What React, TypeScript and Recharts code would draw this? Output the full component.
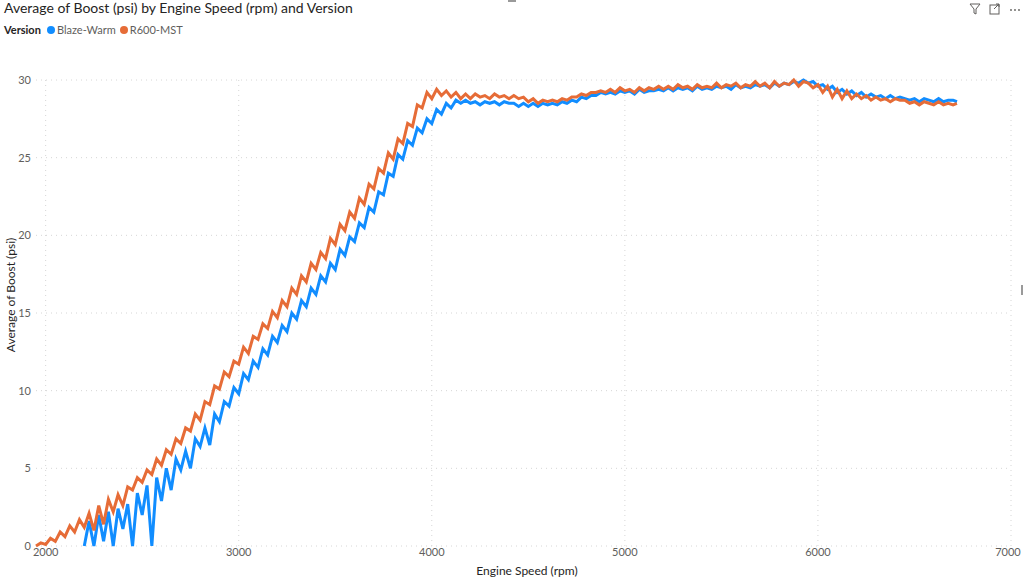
import React from "react";
import { LineChart, Line, XAxis, YAxis, CartesianGrid } from "recharts";

const rpm = [
  1950, 1975, 2000, 2025, 2050, 2075, 2100, 2125, 2150, 2175,
  2200, 2225, 2250, 2275, 2300, 2325, 2350, 2375, 2400, 2425,
  2450, 2475, 2500, 2525, 2550, 2575, 2600, 2625, 2650, 2675,
  2700, 2725, 2750, 2775, 2800, 2825, 2850, 2875, 2900, 2925,
  2950, 2975, 3000, 3025, 3050, 3075, 3100, 3125, 3150, 3175,
  3200, 3225, 3250, 3275, 3300, 3325, 3350, 3375, 3400, 3425,
  3450, 3475, 3500, 3525, 3550, 3575, 3600, 3625, 3650, 3675,
  3700, 3725, 3750, 3775, 3800, 3825, 3850, 3875, 3900, 3925,
  3950, 3975, 4000, 4025, 4050, 4075, 4100, 4125, 4150, 4175,
  4200, 4225, 4250, 4275, 4300, 4325, 4350, 4375, 4400, 4425,
  4450, 4475, 4500, 4525, 4550, 4575, 4600, 4625, 4650, 4675,
  4700, 4725, 4750, 4775, 4800, 4825, 4850, 4875, 4900, 4925,
  4950, 4975, 5000, 5025, 5050, 5075, 5100, 5125, 5150, 5175,
  5200, 5225, 5250, 5275, 5300, 5325, 5350, 5375, 5400, 5425,
  5450, 5475, 5500, 5525, 5550, 5575, 5600, 5625, 5650, 5675,
  5700, 5725, 5750, 5775, 5800, 5825, 5850, 5875, 5900, 5925,
  5950, 5975, 6000, 6025, 6050, 6075, 6100, 6125, 6150, 6175,
  6200, 6225, 6250, 6275, 6300, 6325, 6350, 6375, 6400, 6425,
  6450, 6475, 6500, 6525, 6550, 6575, 6600, 6625, 6650, 6675,
  6700, 6720,
];

// Blaze-Warm
const blazeWarm = [
  null, null, null, null, null, null, null, null, null, null,
  0.0, 1.6, 0.0, 2.0, 0.3, 2.2, 0.0, 2.4, 1.1, 2.7,
  0.0, 3.4, 2.0, 3.9, 0.0, 4.4, 2.9, 5.0, 3.6, 5.6,
  4.9, 6.1, 5.0, 6.9, 6.4, 7.6, 6.5, 8.5, 8.0, 9.3,
  9.0, 10.2, 9.8, 11.1, 10.7, 11.9, 11.5, 12.7, 12.3, 13.5,
  13.1, 14.2, 13.8, 15.0, 14.6, 15.8, 15.4, 16.6, 16.2, 17.4,
  17.0, 18.2, 17.8, 19.1, 18.7, 19.9, 19.6, 20.8, 20.5, 21.8,
  21.5, 22.8, 22.6, 24.0, 23.8, 25.2, 24.9, 26.1, 25.8, 26.9,
  26.6, 27.5, 27.2, 28.1, 27.8, 28.5, 28.2, 28.7, 28.5, 28.7,
  28.5, 28.6, 28.4, 28.6, 28.5, 28.6, 28.4, 28.6, 28.5, 28.5,
  28.3, 28.5, 28.3, 28.5, 28.3, 28.5, 28.4, 28.5, 28.4, 28.6,
  28.5, 28.7, 28.6, 28.9, 28.8, 29.0, 29.0, 29.2, 29.1, 29.2,
  29.1, 29.3, 29.2, 29.3, 29.1, 29.4, 29.2, 29.3, 29.3, 29.4,
  29.3, 29.5, 29.3, 29.5, 29.4, 29.5, 29.3, 29.6, 29.4, 29.5,
  29.4, 29.6, 29.5, 29.6, 29.4, 29.7, 29.5, 29.6, 29.5, 29.7,
  29.6, 29.7, 29.5, 29.8, 29.6, 29.8, 29.7, 29.9, 29.8, 30.0,
  29.8, 29.9, 29.6, 29.7, 29.4, 29.6, 29.2, 29.4, 29.1, 29.3,
  29.0, 29.2, 28.9, 29.1, 28.9, 29.0, 28.8, 29.0, 28.8, 28.9,
  28.8, 28.7, 28.8, 28.6, 28.8, 28.7, 28.6, 28.8, 28.6, 28.7,
  28.7, 28.6,
];

// R600-MST
const r600Mst = [
  0.0, 0.2, 0.1, 0.5, 0.3, 0.9, 0.6, 1.3, 0.9, 1.7,
  1.2, 2.1, 1.0, 2.6, 1.4, 3.0, 2.2, 3.3, 2.6, 3.8,
  3.6, 4.4, 4.1, 4.9, 4.6, 5.6, 5.2, 6.2, 5.9, 6.9,
  6.6, 7.6, 7.4, 8.5, 8.1, 9.3, 9.1, 10.3, 10.1, 11.2,
  10.9, 11.9, 11.7, 12.8, 12.4, 13.5, 13.3, 14.3, 14.0, 15.1,
  14.7, 15.8, 15.4, 16.6, 16.2, 17.4, 17.0, 18.2, 17.8, 18.9,
  18.5, 19.8, 19.4, 20.7, 20.3, 21.5, 21.1, 22.4, 22.0, 23.3,
  23.0, 24.3, 24.0, 25.3, 24.9, 26.2, 25.9, 27.2, 27.0, 28.4,
  28.2, 29.2, 28.8, 29.4, 29.0, 29.3, 28.9, 29.2, 28.8, 29.1,
  28.8, 29.1, 28.9, 29.0, 28.8, 29.1, 28.9, 29.0, 28.8, 29.0,
  28.8, 28.9, 28.6, 28.8, 28.5, 28.7, 28.6, 28.7, 28.6, 28.8,
  28.7, 28.9, 28.9, 29.1, 29.0, 29.2, 29.2, 29.3, 29.2, 29.4,
  29.2, 29.5, 29.3, 29.4, 29.2, 29.5, 29.3, 29.5, 29.4, 29.6,
  29.4, 29.6, 29.4, 29.7, 29.5, 29.6, 29.4, 29.7, 29.5, 29.6,
  29.5, 29.8, 29.5, 29.7, 29.6, 29.8, 29.5, 29.7, 29.6, 29.9,
  29.6, 29.8, 29.5, 29.9, 29.6, 29.8, 29.7, 30.0, 29.6, 29.9,
  29.8, 29.5, 29.7, 29.2, 29.6, 28.9, 29.4, 28.8, 29.3, 28.8,
  29.1, 28.8, 29.0, 28.7, 28.9, 28.7, 28.8, 28.6, 28.8, 28.7,
  28.7, 28.5, 28.6, 28.4, 28.6, 28.5, 28.4, 28.6, 28.4, 28.5,
  28.4, 28.5,
];

const xTicks = [2000, 3000, 4000, 5000, 6000, 7000];
const yTicks = [0, 5, 10, 15, 20, 25, 30];

const BLUE = "#118DFF";
const ORANGE = "#E66C37";
const FONT = "'Segoe UI', Lato, sans-serif";

const data = rpm.map((r, i) => ({ rpm: r, blaze: blazeWarm[i], r600: r600Mst[i] }));

const XTick = (props: any) => (
  <text x={props.x} y={556} textAnchor="middle" fontSize={11} fill="#605E5C" fontFamily={FONT}>
    {props.payload.value}
  </text>
);

const YTick = (props: any) => (
  <text x={31} y={props.y + 4} textAnchor="end" fontSize={11} fill="#605E5C" fontFamily={FONT}>
    {props.payload.value}
  </text>
);

export default function App() {
  return (
    <div style={{ position: "absolute", left: 0, top: 0, width: 1024, height: 579, background: "#fff", fontFamily: FONT }}>
      <div style={{ position: "absolute", left: 4, top: -1, fontSize: 14, color: "#252423", whiteSpace: "nowrap" }}>
        Average of Boost (psi) by Engine Speed (rpm) and Version
      </div>
      <div style={{ position: "absolute", left: 4, top: 23, fontSize: 11, color: "#605E5C", display: "flex", alignItems: "center", whiteSpace: "nowrap" }}>
        <span style={{ fontWeight: 700, color: "#252423", marginRight: 6 }}>Version</span>
        <span style={{ width: 8, height: 8, borderRadius: 4, background: BLUE, marginRight: 2 }} />
        <span style={{ marginRight: 4 }}>Blaze-Warm</span>
        <span style={{ width: 8, height: 8, borderRadius: 4, background: ORANGE, marginRight: 2 }} />
        <span>R600-MST</span>
      </div>
      <svg style={{ position: "absolute", left: 966, top: 2 }} width={58} height={14}>
        <path d="M4 2 H14 L10 7 V12 L8 11 V7 Z" fill="none" stroke="#605E5C" strokeWidth={1} />
        <rect x={24} y={3} width={9} height={9} fill="none" stroke="#605E5C" strokeWidth={1} />
        <path d="M28 7 L33 2 M30 2 H33 V5" fill="none" stroke="#605E5C" strokeWidth={1} />
        <circle cx={45} cy={8} r={0.9} fill="#605E5C" />
        <circle cx={49} cy={8} r={0.9} fill="#605E5C" />
        <circle cx={53} cy={8} r={0.9} fill="#605E5C" />
      </svg>
      <div style={{ position: "absolute", left: 508, top: 0, width: 8, height: 2, background: "#9a9a9a" }} />
      <div style={{ position: "absolute", left: 1021, top: 285, width: 2, height: 10, background: "#9a9a9a" }} />
      <div
        style={{
          position: "absolute",
          left: 10,
          top: 295,
          transform: "translate(-50%, -50%) rotate(-90deg)",
          fontSize: 12,
          color: "#252423",
          whiteSpace: "nowrap",
        }}
      >
        Average of Boost (psi)
      </div>
      <div style={{ position: "absolute", left: 527, top: 563, transform: "translateX(-50%)", fontSize: 12, color: "#252423", whiteSpace: "nowrap" }}>
        Engine Speed (rpm)
      </div>
      <div style={{ position: "absolute", left: 0, top: 0 }}>
        <LineChart width={1024} height={579} data={data} margin={{ top: 80, right: 13, bottom: 0, left: 0 }}>
          <CartesianGrid stroke="#D6D6D6" strokeDasharray="1 4" horizontalValues={yTicks} verticalValues={xTicks} />
          <XAxis
            dataKey="rpm"
            type="number"
            domain={[1950, 7000]}
            ticks={xTicks}
            axisLine={false}
            tickLine={false}
            tick={<XTick />}
            height={33}
          />
          <YAxis
            type="number"
            domain={[0, 30]}
            ticks={yTicks}
            axisLine={false}
            tickLine={false}
            tick={<YTick />}
            width={36}
          />
          <Line dataKey="blaze" stroke={BLUE} strokeWidth={3} dot={false} isAnimationActive={false} />
          <Line dataKey="r600" stroke={ORANGE} strokeWidth={3} dot={false} isAnimationActive={false} />
        </LineChart>
      </div>
    </div>
  );
}
